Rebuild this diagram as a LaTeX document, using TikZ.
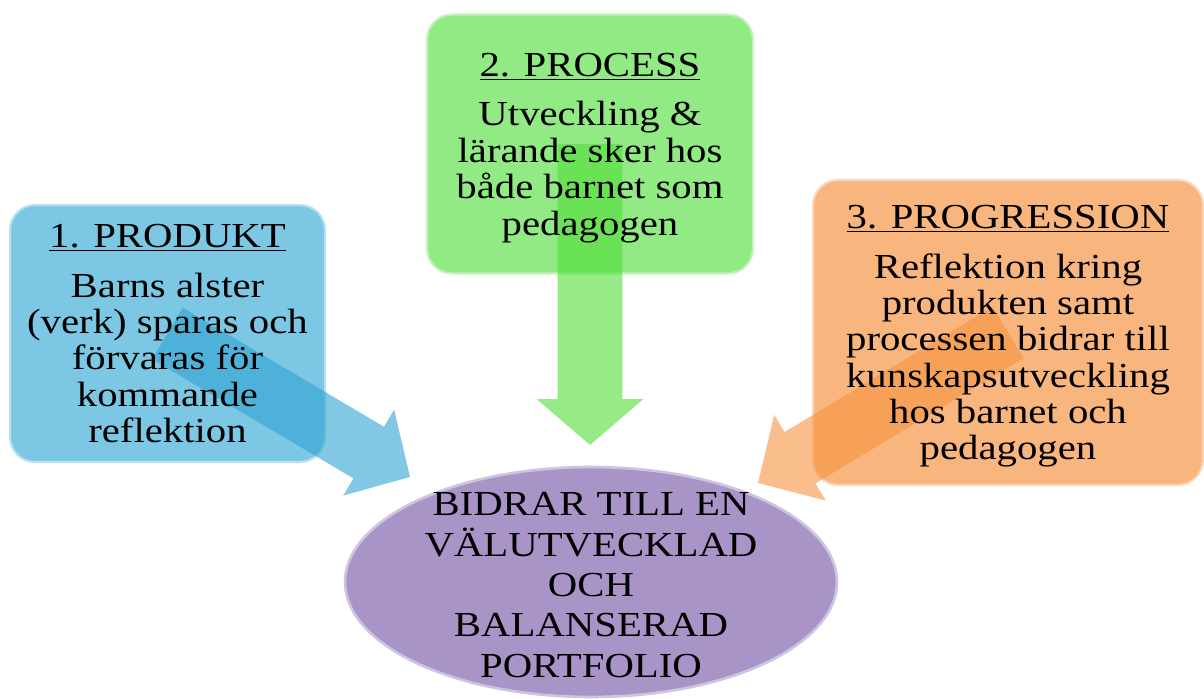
\documentclass[tikz,border=0pt]{standalone}
\usepackage{fontspec}
\setmainfont[FakeStretch=1.16]{Liberation Serif}
\usetikzlibrary{calc,shapes.geometric}
\definecolor{boxblue}{RGB}{124,200,228}
\definecolor{arrowblue}{RGB}{47,163,210}
\definecolor{boxgreen}{RGB}{146,234,132}
\definecolor{arrowgreen}{RGB}{80,222,55}
\definecolor{boxorange}{RGB}{248,181,126}
\definecolor{arroworange}{RGB}{247,147,63}
\definecolor{portpurple}{RGB}{168,148,198}
\begin{document}
\begin{tikzpicture}[x=0.02cm,y=-0.02cm,
    box/.style={rounded corners=0.5cm, align=center, inner sep=0pt, line width=1.2pt, text depth=0pt,
      font=\fontsize{20}{20.7}\selectfont},
    arrowfill/.style={blend mode=darken, fill opacity=0.6}]
  \useasboundingbox (0,0) rectangle (1204,699);

  \node[box, fill=boxblue, draw=boxblue!55!white, minimum width=6.3cm, minimum height=5.14cm] (produkt) at (167.5,333.5)
    {\underline{1. PRODUKT}\\[7.6pt] Barns alster\\ (verk) sparas och\\ förvaras för\\ kommande\\ reflektion};
  \node[box, fill=boxgreen, draw=boxgreen!55!white, minimum width=6.52cm, minimum height=5.18cm] (process) at (590,144)
    {\underline{2. PROCESS}\\[7.6pt] Utveckling \&\\ lärande sker hos\\ både barnet som\\ pedagogen};
  \node[box, fill=boxorange, draw=boxorange!55!white, minimum width=7.8cm, minimum height=6.1cm] (progression) at (1008,332.5)
    {\underline{3. PROGRESSION}\\[7.6pt] Reflektion kring\\ produkten samt\\ processen bidrar till\\ kunskapsutveckling\\ hos barnet och\\ pedagogen};

  \node[ellipse, fill=portpurple, draw=portpurple!55!white, line width=1.5pt, minimum width=9.84cm, minimum height=4.6cm] (portfolio) at (591,582) {};
  \node[align=center, inner sep=0pt, font=\fontsize{20}{23}\selectfont] (portfoliotext) at (591,585)
    {BIDRAR TILL EN\\ VÄLUTVECKLAD\\ OCH\\ BALANSERAD\\ PORTFOLIO};

  \coordinate (bluetip) at (410,477);
  \coordinate (bluebase) at ($(bluetip)!0.96cm!(produkt.center)$);
  \fill[arrowfill, fill=arrowblue] ($(produkt.center)!0.6cm!90:(bluetip)$) -- ($(bluebase)!0.6cm!90:(bluetip)$)
    -- ($(bluebase)!1cm!90:(bluetip)$) -- (bluetip) -- ($(bluebase)!1cm!-90:(bluetip)$)
    -- ($(bluebase)!0.6cm!-90:(bluetip)$) -- ($(produkt.center)!0.6cm!-90:(bluetip)$) -- cycle;

  \coordinate (greentip) at (590,445);
  \coordinate (greenbase) at ($(greentip)!0.92cm!(process.center)$);
  \fill[arrowfill, fill=arrowgreen] ($(process.center)!0.65cm!90:(greentip)$) -- ($(greenbase)!0.65cm!90:(greentip)$)
    -- ($(greenbase)!1.07cm!90:(greentip)$) -- (greentip) -- ($(greenbase)!1.07cm!-90:(greentip)$)
    -- ($(greenbase)!0.65cm!-90:(greentip)$) -- ($(process.center)!0.65cm!-90:(greentip)$) -- cycle;

  \coordinate (orangetip) at (758,483);
  \coordinate (orangebase) at ($(orangetip)!0.98cm!(progression.center)$);
  \fill[arrowfill, fill=arroworange] ($(progression.center)!0.6cm!90:(orangetip)$) -- ($(orangebase)!0.6cm!90:(orangetip)$)
    -- ($(orangebase)!1cm!90:(orangetip)$) -- (orangetip) -- ($(orangebase)!1cm!-90:(orangetip)$)
    -- ($(orangebase)!0.6cm!-90:(orangetip)$) -- ($(progression.center)!0.6cm!-90:(orangetip)$) -- cycle;
\end{tikzpicture}
\end{document}
